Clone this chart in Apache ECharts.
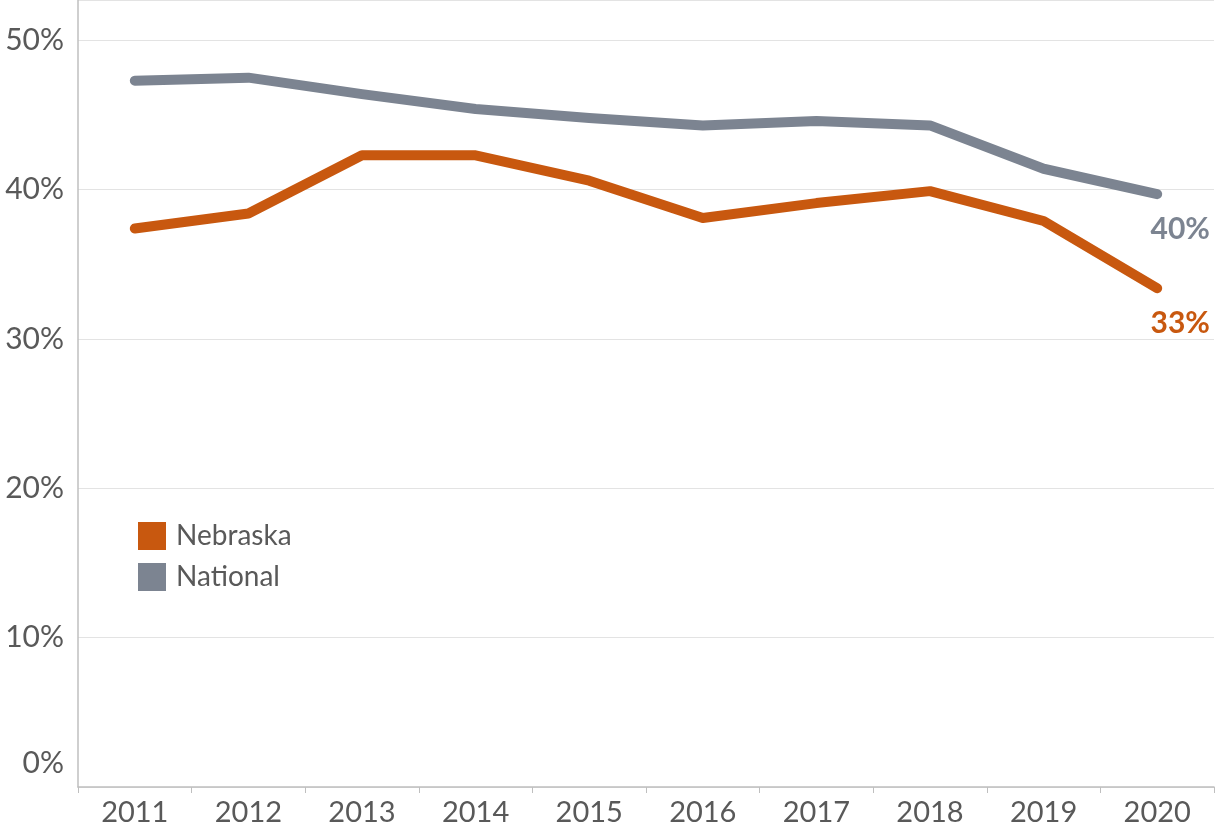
<!DOCTYPE html>
<html>
<head>
<meta charset="utf-8">
<script src="https://cdn.jsdelivr.net/npm/echarts@6/dist/echarts.min.js"></script>
<style>
  html, body { margin: 0; padding: 0; background: #fff; }
  #main { width: 1216px; height: 835px; }
</style>
</head>
<body>
<div id="main"></div>
<script>
// values (percent)
var years = ['2011', '2012', '2013', '2014', '2015', '2016', '2017', '2018', '2019', '2020']
var nebraska = [37.4, 38.4, 42.3, 42.3, 40.6, 38.1, 39.1, 39.9, 37.9, 33.4]
var national = [47.3, 47.5, 46.4, 45.4, 44.8, 44.3, 44.6, 44.3, 41.4, 39.7]
var yTicks = [0, 10, 20, 30, 40, 50]

var orange = '#C8580F'
var grey = '#7C8491'
var font = 'Lato, "Open Sans", sans-serif'

// only the last point carries a label
function lastLabel(arr, color) {
    return arr.map(function (v, i) {
        if (i !== arr.length - 1) return v
        return {
            value: v,
            label: {
                show: true,
                position: 'bottom',
                offset: [23, 15],
                formatter: Math.round(v) + '%',
                color: color,
                fontSize: 30,
                fontWeight: 'bold',
                fontFamily: font
            }
        }
    })
}

var myChart = echarts.init(document.getElementById('main'))
myChart.setOption({
    animation: false,
    grid: { left: 78, right: 2, top: 0, bottom: 48, containLabel: false },
    legend: {
        orient: 'vertical',
        left: 138,
        top: 522,
        padding: 0,
        itemWidth: 28,
        itemHeight: 28,
        itemGap: 13,
        icon: 'rect',
        data: ['Nebraska', 'National'],
        textStyle: { fontSize: 28, color: '#595959', fontFamily: font, padding: [0, 0, 0, 5] }
    },
    xAxis: {
        type: 'category',
        data: years,
        boundaryGap: true,
        axisLine: { lineStyle: { color: '#bfbfbf', width: 1.5 } },
        axisTick: { show: true, length: 6, lineStyle: { color: '#bfbfbf' } },
        axisLabel: { fontSize: 29, color: '#595959', fontFamily: font, margin: 11 }
    },
    yAxis: {
        type: 'value',
        min: 0,
        max: 52.7,
        interval: 10,
        axisLine: { show: true, lineStyle: { color: '#bfbfbf', width: 1.5 } },
        axisTick: { show: false },
        axisLabel: {
            fontSize: 30,
            color: '#595959',
            fontFamily: font,
            margin: 14,
            showMaxLabel: false,
            formatter: function (v) {
                if (yTicks.indexOf(v) < 0) return ''
                return v === 0 ? '{z|0%}' : v + '%'
            },
            rich: {
                z: { fontSize: 30, color: '#595959', fontFamily: font, padding: [0, 0, 48, 0] }
            }
        },
        splitLine: { lineStyle: { color: '#e3e3e3', width: 1 } }
    },
    series: [
        {
            name: 'National',
            type: 'line',
            data: lastLabel(national, grey),
            showSymbol: true,
            symbol: 'circle',
            symbolSize: 0,
            color: grey,
            lineStyle: { width: 10, color: grey, cap: 'round', join: 'round' }
        },
        {
            name: 'Nebraska',
            type: 'line',
            data: lastLabel(nebraska, orange),
            showSymbol: true,
            symbol: 'circle',
            symbolSize: 0,
            color: orange,
            lineStyle: { width: 10, color: orange, cap: 'round', join: 'round' }
        }
    ]
})
</script>
</body>
</html>
